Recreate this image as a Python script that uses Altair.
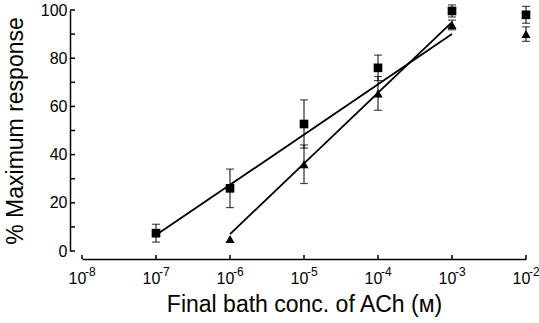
import altair as alt
import pandas as pd

# ---- data ----
conc_sq = [1e-7, 1e-6, 1e-5, 1e-4, 1e-3, 1e-2]
resp_sq = [7.4, 26.0, 52.7, 76.0, 99.6, 98.0]
err_sq = [3.7, 8.0, 10.0, 5.3, 2.5, 3.5]

conc_tri = [1e-6, 1e-5, 1e-4, 1e-3, 1e-2]
resp_tri = [5.0, 36.0, 65.4, 93.8, 90.0]
err_tri = [0.0, 8.0, 7.0, 2.0, 3.0]

line_sq_x = [1e-7, 1e-3]
line_sq_y = [6.6, 90.0]
line_tri_x = [1e-6, 1e-3]
line_tri_y = [7.0, 95.0]

x_tick_values = [1e-8, 1e-7, 1e-6, 1e-5, 1e-4, 1e-3, 1e-2]
x_exponents = ["-8", "-7", "-6", "-5", "-4", "-3", "-2"]
y_tick_values = [0, 10, 20, 30, 40, 50, 60, 70, 80, 90, 100]

W, H = 444, 241

pts = pd.DataFrame(
    {"conc": conc_sq + conc_tri,
     "resp": resp_sq + resp_tri,
     "err": err_sq + err_tri,
     "series": ["sq"] * len(conc_sq) + ["tri"] * len(conc_tri)}
)
pts["lo"] = pts["resp"] - pts["err"]
pts["hi"] = pts["resp"] + pts["err"]
errs = pts[pts["err"] > 0]

lines = pd.DataFrame(
    {"conc": line_sq_x + line_tri_x,
     "resp": line_sq_y + line_tri_y,
     "series": ["sq"] * 2 + ["tri"] * 2}
)

xt = pd.DataFrame({"conc": x_tick_values, "e": x_exponents})
yt = pd.DataFrame({"resp": y_tick_values})

xscale = alt.Scale(type="log", domain=[1e-8, 1e-2])
yscale = alt.Scale(domain=[0, 100])

x_axis = alt.Axis(
    values=x_tick_values, labelExpr="'10'", offset=8, ticks=False, grid=False,
    domainColor="black", domainWidth=1.5, labelFontSize=16, labelColor="black",
    labelPadding=11, labelOffset=-5, labelFlush=False, labelOverlap=False,
    titleFontSize=23, titleFontWeight="normal", titleColor="black", titlePadding=7,
)
y_axis = alt.Axis(
    values=y_tick_values, labelExpr="datum.value % 20 == 0 ? datum.label : ''",
    offset=12, ticks=False, grid=False, domainColor="black", domainWidth=1.5,
    labelFontSize=16, labelColor="black", labelPadding=3, labelFlush=False,
    labelOverlap=False,
    titleFontSize=23, titleFontWeight="normal",
    titleColor="black", titlePadding=13,
)
X_TITLE = "Final bath conc. of ACh (ᴍ)"
Y_TITLE = "% Maximum response"


def X(field):
    return alt.X(field, scale=xscale, axis=x_axis, title=X_TITLE)


def Y(field):
    return alt.Y(field, scale=yscale, axis=y_axis, title=Y_TITLE)


ytick_layer = alt.Chart(yt).mark_rule(color="black", strokeWidth=1.5).encode(
    y=Y("resp:Q"),
    x=alt.value(-12), x2=alt.value(-7),
)
xtick_layer = alt.Chart(xt).mark_rule(color="black", strokeWidth=1.5).encode(
    x=X("conc:Q"),
    y=alt.value(H + 8), y2=alt.value(H + 4),
)
exp_layer = alt.Chart(xt).mark_text(
    align="left", baseline="alphabetic", fontSize=12, dx=3, color="black"
).encode(
    x=X("conc:Q"),
    y=alt.value(H + 25),
    text="e:N",
)

line_layer = alt.Chart(lines).mark_line(color="black", strokeWidth=1.8).encode(
    x=X("conc:Q"),
    y=Y("resp:Q"),
    detail="series:N",
)
err_layer = alt.Chart(errs).mark_rule(color="black", strokeWidth=1).encode(
    x=X("conc:Q"),
    y=Y("lo:Q"),
    y2="hi:Q",
)
cap_lo = alt.Chart(errs).mark_tick(orient="horizontal", size=8, thickness=1.2, color="black").encode(
    x=X("conc:Q"),
    y=Y("lo:Q"),
)
cap_hi = alt.Chart(errs).mark_tick(orient="horizontal", size=8, thickness=1.2, color="black").encode(
    x=X("conc:Q"),
    y=Y("hi:Q"),
)
point_layer = alt.Chart(pts).mark_point(filled=True, opacity=1, color="black").encode(
    x=X("conc:Q"),
    y=Y("resp:Q"),
    shape=alt.Shape("series:N", scale=alt.Scale(domain=["sq", "tri"], range=["square", "triangle-up"]), legend=None),
    size=alt.Size("series:N", scale=alt.Scale(domain=["sq", "tri"], range=[75, 85]), legend=None),
)

chart = alt.layer(
    ytick_layer, xtick_layer, line_layer, err_layer, cap_lo, cap_hi, point_layer, exp_layer
).properties(
    width=W, height=H,
    padding={"left": 82, "top": 10, "right": 13, "bottom": 72},
    autosize=alt.AutoSizeParams(type="none"),
).configure(font="Liberation Sans").configure_view(stroke=None)

chart.save("out.html", embed_options={"renderer": "svg", "actions": False})
